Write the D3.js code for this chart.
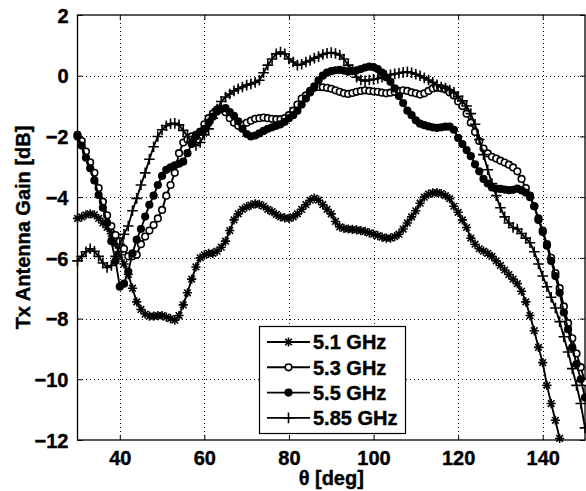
<!DOCTYPE html>
<html>
<head>
<meta charset="utf-8">
<script src="https://cdn.jsdelivr.net/npm/d3@7"></script>
<style>
  html, body { margin: 0; padding: 0; background: #fff; }
  svg { display: block; }
  text { font-family: "Liberation Sans", Arial, sans-serif; font-weight: bold; fill: #000; }
</style>
</head>
<body>
<svg id="chart" width="586" height="491"></svg>
<script>
// ---- Data ----
const theta = d3.range(30, 151, 1);
const xTicks = [40, 60, 80, 100, 120, 140];
const yTicks = [2, 0, -2, -4, -6, -8, -10, -12];
const seriesNames = ["5.1 GHz", "5.3 GHz", "5.5 GHz", "5.85 GHz"];

const gain51 = [
  -4.7, -4.65, -4.58, -4.55, -4.58, -4.7, -4.85, -5.0, -5.2, -5.55,
  -5.9, -6.2, -6.55, -7.0, -7.45, -7.7, -7.85, -7.92, -7.92, -7.9,
  -7.9, -7.95, -8.0, -8.05, -7.9, -7.55, -7.15, -6.7, -6.3, -6.0,
  -5.9, -5.85, -5.85, -5.78, -5.65, -5.45, -5.1, -4.75, -4.55, -4.4,
  -4.32, -4.26, -4.22, -4.24, -4.3, -4.4, -4.48, -4.57, -4.65, -4.68,
  -4.7, -4.65, -4.55, -4.4, -4.25, -4.1, -4.03, -4.1, -4.25, -4.4,
  -4.55, -4.8, -4.98, -5.03, -5.05, -5.06, -5.08, -5.1, -5.13, -5.18,
  -5.22, -5.27, -5.32, -5.35, -5.35, -5.3, -5.22, -5.05, -4.85, -4.65,
  -4.45, -4.2, -4.0, -3.9, -3.86, -3.85, -3.88, -3.95, -4.05, -4.3,
  -4.5, -4.75, -5.0, -5.35, -5.55, -5.7, -5.78, -5.85, -5.95, -6.1,
  -6.25, -6.4, -6.55, -6.7, -6.85, -7.1, -7.45, -7.9, -8.4, -8.95,
  -9.45, -10.2, -10.8, -11.35, -11.95
];
const gain53 = [
  -1.95, -2.15, -2.5, -2.85, -3.2, -3.7, -4.15, -4.6, -4.95, -5.25,
  -5.45, -5.7, -5.95, -5.95, -5.9, -5.55, -5.3, -5.1, -4.92, -4.7,
  -4.42, -3.95, -3.6, -3.2, -2.55, -2.2, -2.1, -2.0, -1.95, -1.85,
  -1.6, -1.4, -1.25, -1.12, -1.1, -1.2, -1.4, -1.55, -1.65, -1.62,
  -1.55, -1.48, -1.42, -1.4, -1.38, -1.4, -1.42, -1.43, -1.43, -1.4,
  -1.3, -1.15, -0.95, -0.75, -0.65, -0.5, -0.4, -0.37, -0.38, -0.4,
  -0.43, -0.48, -0.53, -0.58, -0.6, -0.57, -0.53, -0.5, -0.48, -0.5,
  -0.52, -0.53, -0.56, -0.58, -0.56, -0.53, -0.5, -0.48, -0.5, -0.55,
  -0.58, -0.62, -0.58, -0.5, -0.42, -0.4, -0.41, -0.45, -0.55, -0.65,
  -0.85, -1.0, -1.25, -1.55, -1.85, -2.15, -2.4, -2.56, -2.67, -2.73,
  -2.8, -2.86, -2.93, -3.02, -3.15, -3.4, -3.7, -3.95, -4.3, -4.7,
  -5.1, -5.55, -6.0, -6.5, -7.0, -7.6, -8.15, -8.65, -9.15, -9.6,
  -10.1
];
const gain55 = [
  -2.0, -2.3, -2.7, -3.05, -3.45, -3.93, -4.35, -4.85, -5.45, -6.1,
  -6.95, -6.85, -6.45, -5.85, -5.4, -5.05, -4.64, -4.25, -3.95, -3.6,
  -3.3, -3.1, -3.02, -2.95, -2.9, -2.83, -2.55, -2.25, -2.0, -1.85,
  -1.75, -1.55, -1.35, -1.18, -1.1, -1.07, -1.2, -1.32, -1.5, -1.75,
  -1.92, -2.0, -1.97, -1.9, -1.82, -1.75, -1.7, -1.65, -1.6, -1.52,
  -1.4, -1.3, -1.15, -0.95, -0.75, -0.55, -0.35, -0.15, 0.0, 0.1,
  0.15, 0.18, 0.19, 0.17, 0.13, 0.15, 0.18, 0.22, 0.27, 0.3,
  0.28, 0.22, 0.1, -0.05, -0.2, -0.42, -0.67, -0.9, -1.15, -1.3,
  -1.47, -1.58, -1.63, -1.67, -1.7, -1.72, -1.7, -1.68, -1.68, -1.78,
  -2.05, -2.25, -2.45, -2.65, -2.92, -3.15, -3.4, -3.55, -3.68, -3.72,
  -3.73, -3.75, -3.77, -3.76, -3.72, -3.78, -3.85, -4.0, -4.3, -4.75,
  -5.15, -5.6, -6.1, -6.6, -7.15, -7.8, -8.35, -8.95, -9.5, -10.0,
  -10.6
];
const gain585 = [
  -6.1, -5.95, -5.8, -5.7, -5.78, -5.95, -6.17, -6.32, -6.25, -5.95,
  -5.55, -5.22, -4.95, -4.45, -4.04, -3.6, -3.2, -2.75, -2.34, -2.0,
  -1.78, -1.65, -1.58, -1.57, -1.62, -1.8, -2.0, -2.15, -2.3, -2.2,
  -1.95, -1.75, -1.4, -1.1, -0.85, -0.7, -0.6, -0.5, -0.43, -0.37,
  -0.31, -0.27, -0.22, -0.15, 0.1, 0.35, 0.55, 0.72, 0.78, 0.72,
  0.55, 0.45, 0.35, 0.38, 0.45, 0.5, 0.58, 0.63, 0.7, 0.74,
  0.76, 0.73, 0.68, 0.55, 0.35, 0.2, -0.05, -0.14, -0.17, -0.14,
  -0.12, -0.09, -0.05, 0.0, 0.03, 0.06, 0.08, 0.11, 0.13, 0.1,
  0.05, 0.0, -0.07, -0.14, -0.22, -0.3, -0.37, -0.41, -0.47, -0.55,
  -0.68, -0.83, -1.0, -1.25, -1.6, -2.1, -2.6, -3.1, -3.55, -3.95,
  -4.35, -4.65, -4.85, -5.0, -5.05, -5.2, -5.35, -5.5, -5.8, -6.2,
  -6.6, -6.95, -7.3, -7.65, -8.1, -8.6, -9.1, -9.65, -10.2, -10.8,
  -11.6
];
const seriesGains = [gain51, gain53, gain55, gain585];
const markerKinds = ["asterisk", "circle", "dot", "plus"];

// ---- Layout ----
const svg = d3.select("#chart");
const L = 77.5, R = 585, T = 15, B = 440;

const x = d3.scaleLinear().domain([30, 150]).range([L, R]);
const y = d3.scaleLinear().domain([-12, 2]).range([B, T]);

// grid
const grid = svg.append("g").attr("stroke", "#000").attr("stroke-width", 1)
  .attr("stroke-dasharray", "1,3").attr("shape-rendering", "crispEdges");
grid.selectAll("line.vx").data(xTicks).join("line")
  .attr("x1", d => Math.round(x(d)) + 0.5).attr("x2", d => Math.round(x(d)) + 0.5)
  .attr("y1", T).attr("y2", B);
grid.selectAll("line.hy").data(yTicks.filter(d => d !== 2 && d !== -12)).join("line")
  .attr("x1", L).attr("x2", R)
  .attr("y1", d => Math.round(y(d)) + 0.5).attr("y2", d => Math.round(y(d)) + 0.5);

// axes (ticks inside)
const axB = d3.axisBottom(x).tickValues(xTicks).tickSizeInner(-5).tickSizeOuter(0).tickPadding(14);
const axL = d3.axisLeft(y).tickValues(yTicks).tickSizeInner(-5).tickSizeOuter(0).tickPadding(9)
  .tickFormat(d => d3.format("")(d).replace("-", "\u2212"));
const axT = d3.axisTop(x).tickValues(xTicks).tickSizeInner(-5).tickSizeOuter(0).tickFormat("");
const axR = d3.axisRight(y).tickValues(yTicks).tickSizeInner(-5).tickSizeOuter(0).tickFormat("");

function styleAxis(g) {
  g.select(".domain").remove();
  g.selectAll("line").attr("stroke", "#000");
  g.selectAll("text").style("font-size", "20px").style("font-weight", "bold")
    .style("font-family", "'Liberation Sans', Arial, sans-serif").attr("fill", "#000")
    .attr("stroke", "#000").attr("stroke-width", 0.4);
}
const gB = svg.append("g").attr("transform", `translate(0,${B})`).call(axB).call(styleAxis);
const gL = svg.append("g").attr("transform", `translate(${L},0)`).call(axL).call(styleAxis);
svg.append("g").attr("transform", `translate(0,${T})`).call(axT).call(styleAxis);
svg.append("g").attr("transform", `translate(${R},0)`).call(axR).call(styleAxis);

gB.selectAll(".tick text").attr("dy", null).attr("y", 25);
gL.selectAll(".tick text").attr("dy", "0.36em");

// box
svg.append("rect").attr("x", L).attr("y", T).attr("width", R - L).attr("height", B - T)
  .attr("fill", "none").attr("stroke", "#000").attr("stroke-width", 1.3);

// marker drawing
function drawMarker(g, kind, cx, cy) {
  if (kind === "asterisk") {
    const r = 4.6, a = 3.3;
    g.append("path").attr("d",
      `M${cx - r},${cy}H${cx + r}M${cx},${cy - r}V${cy + r}M${cx - a},${cy - a}L${cx + a},${cy + a}M${cx - a},${cy + a}L${cx + a},${cy - a}`)
      .attr("stroke", "#000").attr("stroke-width", 1.6).attr("fill", "none");
  } else if (kind === "circle") {
    g.append("circle").attr("cx", cx).attr("cy", cy).attr("r", 3.3)
      .attr("fill", "#fff").attr("stroke", "#000").attr("stroke-width", 1.6);
  } else if (kind === "dot") {
    g.append("circle").attr("cx", cx).attr("cy", cy).attr("r", 4.1).attr("fill", "#000");
  } else if (kind === "plus") {
    const r = 5.3;
    g.append("path").attr("d", `M${cx - r},${cy}H${cx + r}M${cx},${cy - r}V${cy + r}`)
      .attr("stroke", "#000").attr("stroke-width", 1.6).attr("fill", "none");
  }
}

const line = d3.line().x(d => x(d[0])).y(d => y(d[1]));
const plot = svg.append("g");
seriesGains.forEach((vals, i) => {
  const pts = vals.map((v, j) => [theta[j], v]);
  const g = plot.append("g");
  g.append("path").datum(pts).attr("d", line).attr("fill", "none")
    .attr("stroke", "#000").attr("stroke-width", 1.9);
  pts.forEach(p => drawMarker(g, markerKinds[i], x(p[0]), y(p[1])));
});

// legend
const lg = svg.append("g");
lg.append("rect").attr("x", 259.5).attr("y", 326.5).attr("width", 146).attr("height", 107)
  .attr("fill", "#fff").attr("stroke", "#000").attr("stroke-width", 1.2);
seriesNames.forEach((name, i) => {
  const ly = 342 + i * 25.3;
  lg.append("line").attr("x1", 267).attr("x2", 310).attr("y1", ly).attr("y2", ly)
    .attr("stroke", "#000").attr("stroke-width", 1.9);
  drawMarker(lg, markerKinds[i], 288.5, ly);
  lg.append("text").attr("x", 313).attr("y", ly).attr("dy", "0.36em")
    .attr("stroke", "#000").attr("stroke-width", 0.4)
    .style("font-size", "20px").text(name);
});

// axis labels
svg.append("text").attr("x", (L + R) / 2).attr("y", 485).attr("text-anchor", "middle")
  .attr("stroke", "#000").attr("stroke-width", 0.4)
  .style("font-size", "20px").text("θ [deg]");
svg.append("text").attr("transform", `translate(30,${(T + B) / 2}) rotate(-90)`)
  .attr("text-anchor", "middle").attr("stroke", "#000").attr("stroke-width", 0.4)
  .style("font-size", "20px").text("Tx Antenna Gain [dB]");
</script>
</body>
</html>
